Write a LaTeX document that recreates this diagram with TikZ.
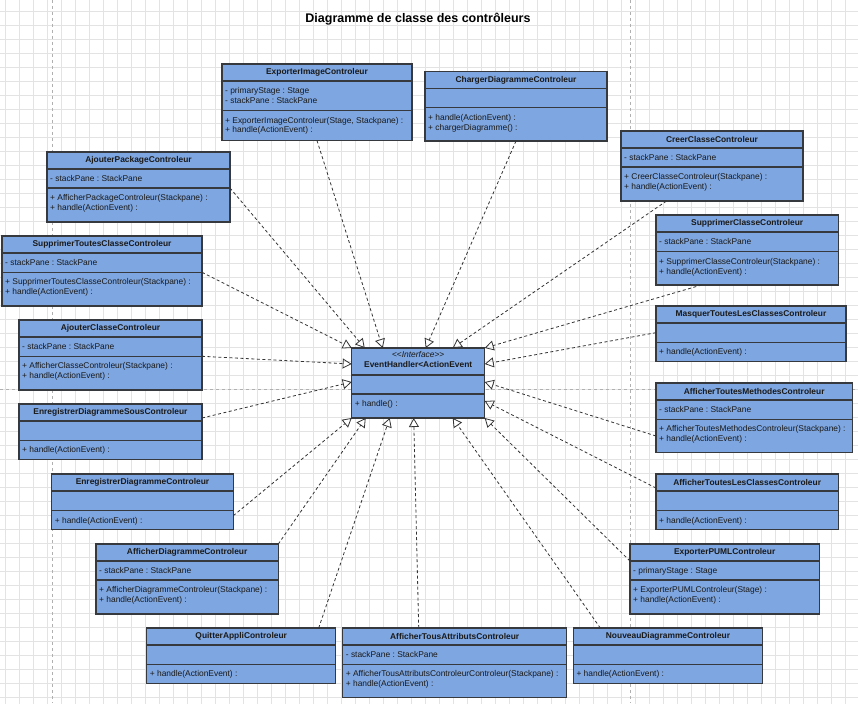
\documentclass[tikz,border=0pt]{standalone}
\usepackage{fontspec}
\setmainfont{Liberation Sans}
\frenchspacing
\usetikzlibrary{arrows.meta}

\begin{document}
\begin{tikzpicture}[x=1pt, y=-1pt,
    classhead/.style={draw=borderColour, fill=fillColour, line width=1.1pt, inner sep=0pt, outer sep=0pt,
        anchor=north west, minimum height=17pt, text=textColour, font=\bfseries\fontsize{8.4}{10}\selectfont},
    classpart/.style={draw=borderColour, fill=fillColour, line width=1.1pt, inner sep=0pt, outer sep=0pt,
        anchor=north west},
    parttext/.style={anchor=north west, inner xsep=3pt, inner ysep=6.3pt, align=left, text=textColour,
        font=\fontsize{8.4}{9.8}\selectfont},
    ifacetext/.style={anchor=north, inner ysep=3pt, align=center, text=textColour,
        font=\fontsize{8.4}{10}\selectfont},
    realise/.style={draw=lineColour, line width=0.8pt, dash pattern=on 3pt off 2.5pt,
        -{Triangle[open, length=9pt, width=10pt]}},
    pagebreak/.style={draw=pageColour, line width=0.6pt, dash pattern=on 3pt off 3pt}]
    \definecolor{borderColour}{HTML}{36393D}
    \definecolor{fillColour}{HTML}{7EA6E0}
    \definecolor{textColour}{HTML}{1A1A1A}
    \definecolor{lineColour}{HTML}{333333}
    \definecolor{gridColour}{HTML}{E3E3E3}
    \definecolor{pageColour}{HTML}{B0B0B0}

    \useasboundingbox[fill=white] (0,0) rectangle (858,703);

    % Class box: name, position, width, attribute height, method height, title, attributes, methods
    \def\umlclass#1#2#3#4#5#6#7#8{%
        \node[classhead, minimum width=#3pt] (#1) at #2 {#6};
        \node[classpart, minimum width=#3pt, minimum height=#4pt,
            label={[parttext]north west:{#7}}] (#1-attr) at (#1.south west) {};
        \node[classpart, minimum width=#3pt, minimum height=#5pt,
            label={[parttext]north west:{#8}}] (#1-meth) at (#1-attr.south west) {};
    }

    % Draw grid and page breaks
    \begin{scope}
        \clip (0,0) rectangle (858,703);
        \draw[gridColour, line width=0.6pt, step=14pt, shift={(5,11)}] (-14,717) grid (872,-14);
    \end{scope}
    \draw[pagebreak] (52,0) -- (52,703);
    \draw[pagebreak] (630,0) -- (630,703);
    \draw[pagebreak] (0,389) -- (858,389);

    % Title
    \node[text=black, font=\bfseries\fontsize{12.5}{15}\selectfont] (title) at (418,19)
        {Diagramme de classe des contrôleurs};

    % Interface
    \node[classhead, minimum width=133pt, minimum height=27pt,
        label={[ifacetext]north:{<\kern0pt<\textit{Interface}>\kern0pt>\\\textbf{EventHandler<ActionEvent}}}]
        (iface) at (351.7,348) {};
    \node[classpart, minimum width=133pt, minimum height=19pt] (iface-attr) at (iface.south west) {};
    \node[classpart, minimum width=133pt, minimum height=24pt,
        label={[parttext]north west:{+ handle() :}}] (iface-meth) at (iface-attr.south west) {};

    % Controllers
    \umlclass{expImg}{(222,64)}{190}{29.5}{30}{ExporterImageControleur}
        {- primaryStage : Stage\\- stackPane : StackPane}
        {+ ExporterImageControleur(Stage, Stackpane) :\\+ handle(ActionEvent) :}
    \umlclass{charger}{(425,71.5)}{182}{19.2}{33.3}{ChargerDiagrammeControleur}
        {}{+ handle(ActionEvent) :\\+ chargerDiagramme() :}
    \umlclass{creer}{(621,131)}{182}{19}{34}{CreerClasseControleur}
        {- stackPane : StackPane}{+ CreerClasseControleur(Stackpane) :\\+ handle(ActionEvent) :}
    \umlclass{ajPkg}{(47,152)}{183}{19}{34}{AjouterPackageControleur}
        {- stackPane : StackPane}{+ AfficherPackageControleur(Stackpane) :\\+ handle(ActionEvent) :}
    \umlclass{supToutes}{(2,236)}{200}{19.3}{33.7}{SupprimerToutesClasseControleur}
        {- stackPane : StackPane}{+ SupprimerToutesClasseControleur(Stackpane) :\\+ handle(ActionEvent) :}
    \umlclass{ajCl}{(19,320)}{183}{19.3}{33.7}{AjouterClasseControleur}
        {- stackPane : StackPane}{+ AfficherClasseControleur(Stackpane) :\\+ handle(ActionEvent) :}
    \umlclass{enrSous}{(19,404)}{183}{19.3}{19.2}{EnregistrerDiagrammeSousControleur}
        {}{+ handle(ActionEvent) :}
    \umlclass{supCl}{(656,215)}{182.3}{19.7}{33.3}{SupprimerClasseControleur}
        {- stackPane : StackPane}{+ SupprimerClasseControleur(Stackpane) :\\+ handle(ActionEvent) :}
    \umlclass{masquer}{(656,306)}{190}{19.3}{19.4}{MasquerToutesLesClassesControleur}
        {}{+ handle(ActionEvent) :}
    \umlclass{affMeth}{(656,383)}{196.3}{19.3}{33.4}{AfficherToutesMethodesControleur}
        {- stackPane : StackPane}{+ AfficherToutesMethodesControleur(Stackpane) :\\+ handle(ActionEvent) :}
    \umlclass{affClasses}{(656,474)}{182.3}{19.7}{19}{AfficherToutesLesClassesControleur}
        {}{+ handle(ActionEvent) :}
    \umlclass{expPUML}{(630,544)}{189.3}{19}{34}{ExporterPUMLControleur}
        {- primaryStage : Stage}{+ ExporterPUMLControleur(Stage) :\\+ handle(ActionEvent) :}
    \umlclass{nouveau}{(573.3,628)}{189.4}{19.3}{19.4}{NouveauDiagrammeControleur}
        {}{+ handle(ActionEvent) :}
    \umlclass{affAttr}{(342.7,628)}{224}{19.3}{33.4}{AfficherTousAttributsControleur}
        {- stackPane : StackPane}{+ AfficherTousAttributsControleurControleur(Stackpane) :\\+ handle(ActionEvent) :}
    \umlclass{quitter}{(146.7,628)}{189}{19.3}{19.4}{QuitterAppliControleur}
        {}{+ handle(ActionEvent) :}
    \umlclass{affDiag}{(96,544)}{182.3}{19}{34}{AfficherDiagrammeControleur}
        {- stackPane : StackPane}{+ AfficherDiagrammeControleur(Stackpane) :\\+ handle(ActionEvent) :}
    \umlclass{enrDiag}{(51.7,474)}{181.6}{19.7}{19}{EnregistrerDiagrammeControleur}
        {}{+ handle(ActionEvent) :}

    % Draw realisations of the interface
    \draw[realise] (supToutes-attr.south east) -- (iface.north west);
    \draw[realise] (ajPkg-attr.south east) -- ([xshift=13pt]iface.north west);
    \draw[realise] (expImg-meth.south) -- ([xshift=31pt]iface.north west);
    \draw[realise] (charger-meth.south) -- ([xshift=74pt]iface.north west);
    \draw[realise] ([xshift=45.5pt]creer-meth.south west) -- ([xshift=101pt]iface.north west);
    \draw[realise] ([xshift=45.5pt]supCl-meth.south west) -- (iface.north east);
    \draw[realise] (masquer-attr.west) -- ([yshift=-16pt]iface.north east);
    \draw[realise] (affMeth-meth.west) -- ([yshift=-34pt]iface.north east);
    \draw[realise] ([yshift=-14pt]affClasses.north west) -- ([yshift=-53pt]iface.north east);
    \draw[realise] (expPUML-attr.north west) -- (iface-meth.south east);
    \draw[realise] ([xshift=27pt]nouveau.north west) -- ([xshift=101pt]iface-meth.south west);
    \draw[realise] ([xshift=76pt]affAttr.north west) -- ([xshift=62pt]iface-meth.south west);
    \draw[realise] ([xshift=172pt]quitter.north west) -- ([xshift=38pt]iface-meth.south west);
    \draw[realise] (affDiag.north east) -- ([xshift=14pt]iface-meth.south west);
    \draw[realise] ([yshift=-5pt]enrDiag-meth.north east) -- (iface-meth.south west);
    \draw[realise] ([yshift=-14pt]enrSous.north east) -- ([yshift=-34pt]iface.north west);
    \draw[realise] (ajCl-attr.south east) -- ([yshift=-16pt]iface.north west);

\end{tikzpicture}
\end{document}
